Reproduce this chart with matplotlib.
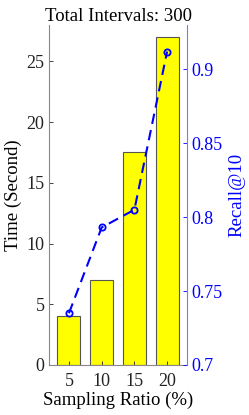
import numpy as np
import matplotlib.pyplot as plt

plt.rcParams['font.family'] = ['Liberation Serif', 'DejaVu Serif']

ratios = [5, 10, 15, 20]
times = [4, 7, 17.5, 27]
recall = [0.735, 0.793, 0.805, 0.912]

fig = plt.figure(figsize=(2.49, 4.15), dpi=100)
ax = fig.add_axes([0.198, 0.1205, 0.552, 0.8195])

ax.bar(ratios, times, width=3.5, color='#ffff00', edgecolor='#555555', linewidth=0.8)
ax.set_xlim(2, 23)
ax.set_ylim(0, 28)
ax.set_xticks(ratios)
ax.set_yticks([0, 5, 10, 15, 20, 25])
ax.set_xlabel('Sampling Ratio (%)', fontsize=13.5, labelpad=1)
ax.set_ylabel('Time (Second)', fontsize=13.5, labelpad=3)
ax.set_title('Total Intervals: 300', fontsize=13.5, pad=2)
ax.tick_params(direction='in', labelsize=13, colors='#222222', length=3, width=0.6)
ax.tick_params(axis='x', pad=6)
for s in ['top', 'right']:
    ax.spines[s].set_visible(False)
for s in ['left', 'bottom']:
    ax.spines[s].set_color('#888888')
    ax.spines[s].set_linewidth(0.8)

ax2 = ax.twinx()
ax2.plot(ratios, recall, color='#0000ff', linestyle='--', linewidth=1.5,
         marker='o', markersize=4.5, markerfacecolor='none', markeredgewidth=1.3,
         dashes=(5, 3))
ax2.set_ylim(0.7, 0.93)
ax2.set_yticks([0.7, 0.75, 0.8, 0.85, 0.9])
ax2.set_yticklabels(['0.7', '0.75', '0.8', '0.85', '0.9'])
ax2.set_ylabel('Recall@10', fontsize=13.5, color='#0000ff', labelpad=4)
ax2.tick_params(direction='in', labelsize=13, colors='#0000ff', length=3, width=0.6)
for s in ['top', 'left', 'bottom']:
    ax2.spines[s].set_visible(False)
ax2.spines['right'].set_color('#7777ff')
ax2.spines['right'].set_linewidth(0.8)

fig.savefig('out.png', dpi=100)
